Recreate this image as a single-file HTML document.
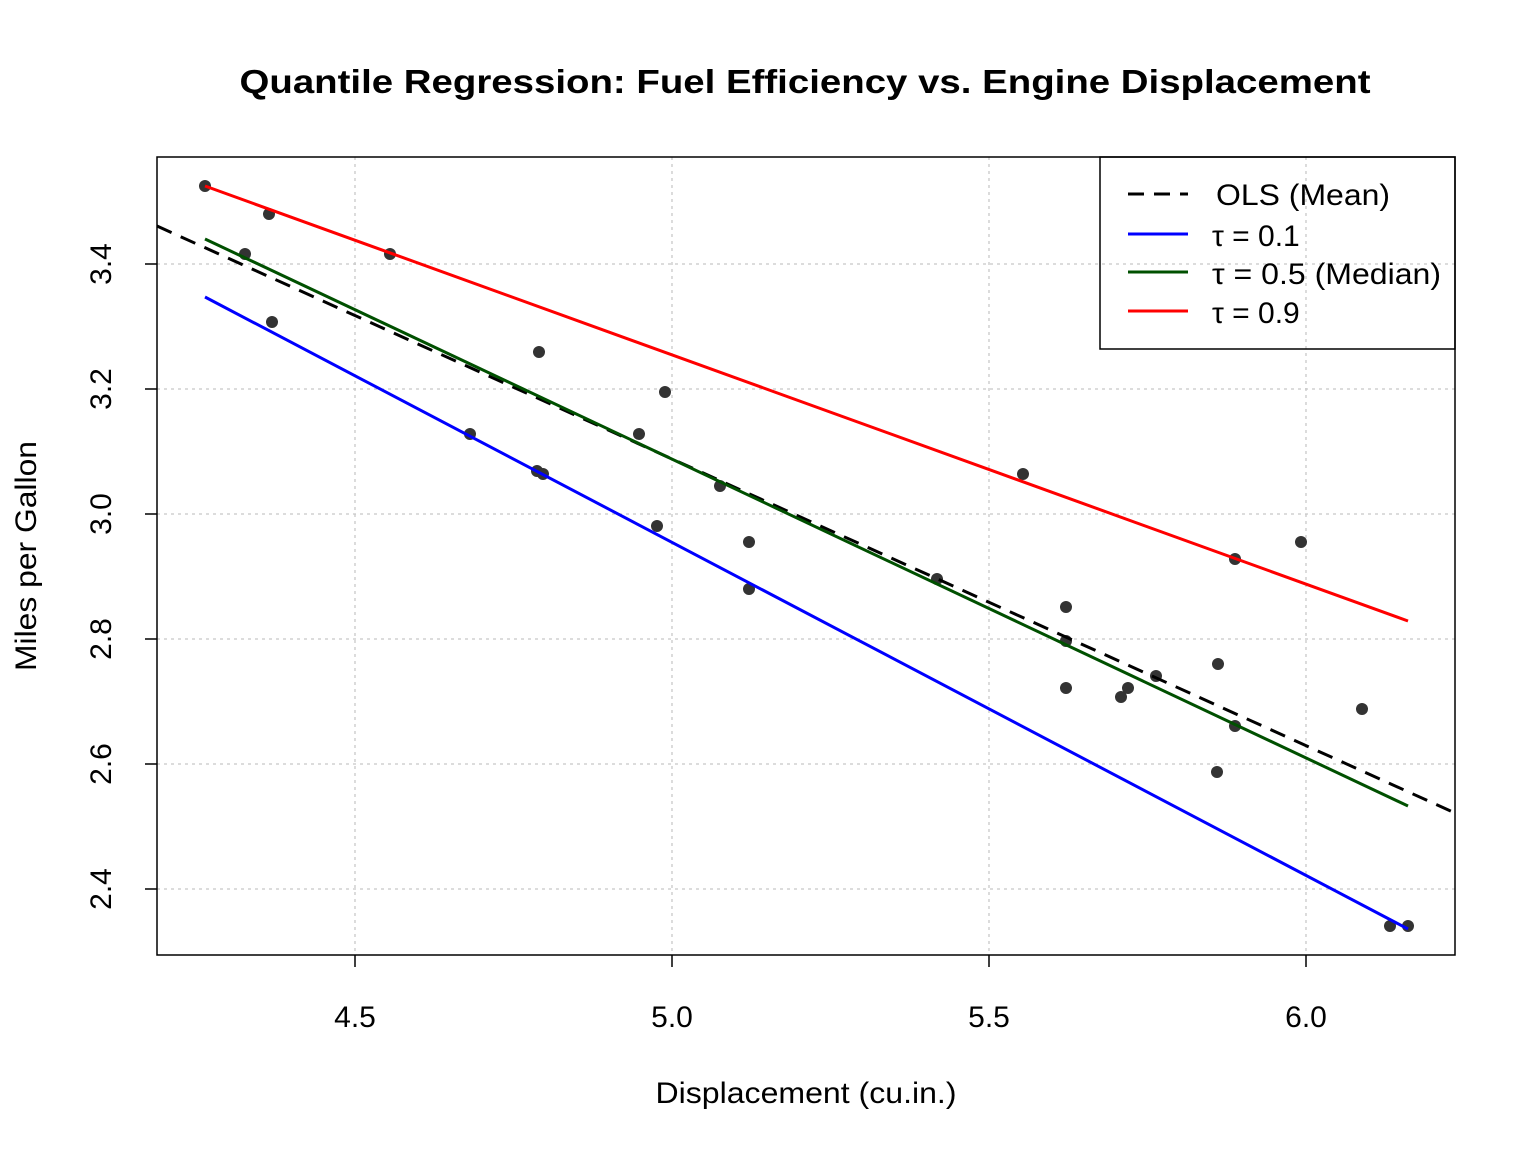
<!DOCTYPE html><html><head><style>body{margin:0;background:#fff}</style></head><body>
<svg width="1536" height="1152" xmlns="http://www.w3.org/2000/svg" font-family="Liberation Sans, Arial, sans-serif">
<rect width="1536" height="1152" fill="#fff"/>
<text x="805" y="93" font-size="33" font-weight="bold" text-anchor="middle" textLength="1131" lengthAdjust="spacingAndGlyphs">Quantile Regression: Fuel Efficiency vs. Engine Displacement</text>
<g stroke="#c8c8c8" stroke-width="1.3" stroke-dasharray="3,4">
<line x1="355" y1="157" x2="355" y2="955"/><line x1="672" y1="157" x2="672" y2="955"/><line x1="989" y1="157" x2="989" y2="955"/><line x1="1306" y1="157" x2="1306" y2="955"/>
<line x1="157" y1="264" x2="1455" y2="264"/><line x1="157" y1="389" x2="1455" y2="389"/><line x1="157" y1="514" x2="1455" y2="514"/><line x1="157" y1="639" x2="1455" y2="639"/><line x1="157" y1="764" x2="1455" y2="764"/><line x1="157" y1="889" x2="1455" y2="889"/>
</g>
<g fill="#333">
<circle cx="205" cy="186" r="6"/><circle cx="269" cy="214" r="6"/><circle cx="245" cy="254" r="6"/><circle cx="390" cy="254" r="6"/><circle cx="272" cy="322" r="6"/><circle cx="539" cy="352" r="6"/><circle cx="665" cy="392" r="6"/><circle cx="470" cy="434" r="6"/><circle cx="639" cy="434" r="6"/><circle cx="537" cy="471" r="6"/><circle cx="543" cy="474" r="6"/><circle cx="720" cy="486" r="6"/><circle cx="657" cy="526" r="6"/><circle cx="749" cy="542" r="6"/><circle cx="749" cy="589" r="6"/><circle cx="937" cy="579" r="6"/><circle cx="1023" cy="474" r="6"/><circle cx="1066" cy="607" r="6"/><circle cx="1066" cy="641" r="6"/><circle cx="1066" cy="688" r="6"/><circle cx="1121" cy="697" r="6"/><circle cx="1128" cy="688" r="6"/><circle cx="1156" cy="676" r="6"/><circle cx="1218" cy="664" r="6"/><circle cx="1217" cy="772" r="6"/><circle cx="1235" cy="559" r="6"/><circle cx="1235" cy="726" r="6"/><circle cx="1301" cy="542" r="6"/><circle cx="1362" cy="709" r="6"/><circle cx="1390" cy="926" r="6"/><circle cx="1408" cy="926" r="6"/>
</g>
<line x1="157" y1="226" x2="1455" y2="813" stroke="#000" stroke-width="3" stroke-dasharray="16,10"/>
<line x1="205" y1="297" x2="1408" y2="929" stroke="#0000ff" stroke-width="3"/>
<line x1="205" y1="239" x2="1408" y2="806" stroke="#005000" stroke-width="3"/>
<line x1="205" y1="186" x2="1408" y2="621" stroke="#ff0000" stroke-width="3"/>
<rect x="157" y="157" width="1298" height="798" fill="none" stroke="#000" stroke-width="1.5"/>
<rect x="1100" y="157" width="355" height="192" fill="none" stroke="#000" stroke-width="1.5"/>
<g stroke-width="3">
<line x1="1128" y1="194" x2="1188" y2="194" stroke="#000" stroke-dasharray="16,10"/>
<line x1="1128" y1="234" x2="1188" y2="234" stroke="#0000ff"/>
<line x1="1128" y1="272" x2="1188" y2="272" stroke="#005000"/>
<line x1="1128" y1="311" x2="1188" y2="311" stroke="#ff0000"/>
</g>
<g font-size="30">
<text x="1216" y="205" textLength="174" lengthAdjust="spacingAndGlyphs">OLS (Mean)</text>
<text x="1212" y="246">τ = 0.1</text>
<text x="1212" y="284" textLength="229" lengthAdjust="spacingAndGlyphs">τ = 0.5 (Median)</text>
<text x="1212" y="323">τ = 0.9</text>
</g>
<g stroke="#000" stroke-width="1.5">
<line x1="355" y1="955" x2="355" y2="967"/><line x1="672" y1="955" x2="672" y2="967"/><line x1="989" y1="955" x2="989" y2="967"/><line x1="1306" y1="955" x2="1306" y2="967"/>
<line x1="145" y1="264" x2="157" y2="264"/><line x1="145" y1="389" x2="157" y2="389"/><line x1="145" y1="514" x2="157" y2="514"/><line x1="145" y1="639" x2="157" y2="639"/><line x1="145" y1="764" x2="157" y2="764"/><line x1="145" y1="889" x2="157" y2="889"/>
</g>
<g font-size="30" text-anchor="middle">
<text x="355" y="1027">4.5</text><text x="672" y="1027">5.0</text><text x="989" y="1027">5.5</text><text x="1306" y="1027">6.0</text>
<text transform="translate(111,264) rotate(-90)">3.4</text>
<text transform="translate(111,389) rotate(-90)">3.2</text>
<text transform="translate(111,514) rotate(-90)">3.0</text>
<text transform="translate(111,639) rotate(-90)">2.8</text>
<text transform="translate(111,764) rotate(-90)">2.6</text>
<text transform="translate(111,889) rotate(-90)">2.4</text>
<text x="806" y="1103" textLength="301" lengthAdjust="spacingAndGlyphs">Displacement (cu.in.)</text>
<text transform="translate(36,556) rotate(-90)" textLength="230" lengthAdjust="spacingAndGlyphs">Miles per Gallon</text>
</g>
</svg>
</body></html>
